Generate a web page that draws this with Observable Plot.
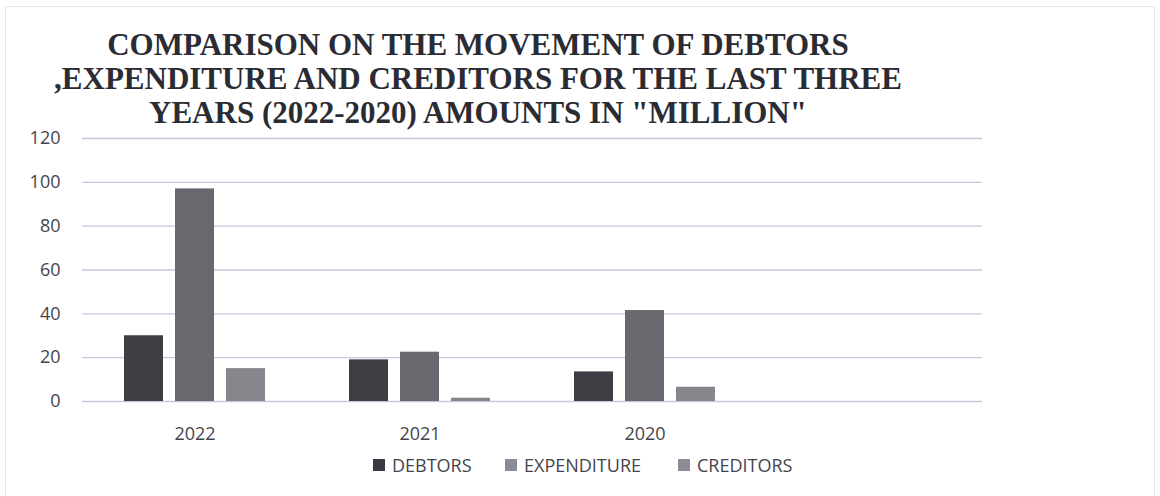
<!DOCTYPE html>
<html>
<head>
<meta charset="utf-8">
<script src="https://cdn.jsdelivr.net/npm/d3@7"></script>
<script src="https://cdn.jsdelivr.net/npm/@observablehq/plot@0.6"></script>
<style>
  html, body { margin: 0; padding: 0; background: #fff; }
  #wrap { position: relative; width: 1160px; height: 496px; overflow: hidden; background: #fff; }
  #frame { position: absolute; left: 5px; top: 6px; width: 1148px; height: 500px; border: 1px solid #e6e6ea; }
  #title { position: absolute; left: 0; top: 28px; width: 956px; text-align: center;
           font-family: "Liberation Serif", "Times New Roman", serif; font-weight: bold;
           font-size: 31px; line-height: 34px; color: #2b2b33; }
  #chart { position: absolute; left: 0; top: 120px; }
  #legend { position: absolute; top: 453px; left: 0; width: 1160px;
            font-family: "Open Sans", sans-serif; font-size: 18px; color: #44444c; }
  .item { position: absolute; display: flex; align-items: center; white-space: nowrap; }
  .sw { width: 12px; height: 12px; margin-right: 7px; }
</style>
</head>
<body>
<div id="wrap">
  <div id="frame"></div>
  <div id="title"></div>
  <div id="chart"></div>
  <div id="legend"></div>
</div>
<script>
const titleLines = [
  "COMPARISON ON THE MOVEMENT OF DEBTORS",
  ",EXPENDITURE AND CREDITORS FOR THE LAST THREE",
  "YEARS (2022-2020) AMOUNTS IN \"MILLION\""
];
const years = ["2022", "2021", "2020", ""];
const series = ["DEBTORS", "EXPENDITURE", "CREDITORS"];
const debtors = [30, 19, 13.5];
const expenditure = [97, 22.5, 41.5];
const creditors = [15, 1.5, 6.5];
const yTicks = [0, 20, 40, 60, 80, 100, 120];
const barColors = ["#3e3e45", "#68686f", "#86868d"];
const legendColors = ["#3a3a42", "#8a8a98", "#8c8c94"];
const legendX = [373, 505, 678];

const data = [];
[debtors, expenditure, creditors].forEach((vals, si) => {
  vals.forEach((v, yi) => data.push({ year: years[yi], series: series[si], value: v }));
});
const grid = years.flatMap(yr => yTicks.map(t => ({ year: yr, tick: t })));

document.getElementById("title").innerHTML = titleLines.map(t => `<div>${t}</div>`).join("");

const chart = Plot.plot({
  width: 1160,
  height: 331,
  marginTop: 18,
  marginBottom: 50,
  marginLeft: 80,
  marginRight: 177,
  style: { fontFamily: "Open Sans, sans-serif", fontSize: "18px", color: "#44444c", background: "transparent" },
  fx: { domain: years, padding: 0, label: null, tickSize: 0, tickPadding: 26 },
  x: { domain: series, paddingInner: 0.24, paddingOuter: 0.8, axis: null },
  y: { domain: [0, 120], ticks: yTicks, tickSize: 0, tickPadding: 22, label: null },
  color: { domain: series, range: barColors },
  marks: [
    Plot.ruleY(grid, { fx: "year", y: "tick", stroke: "#c6c6dc", strokeWidth: 1.3 }),
    Plot.barY(data, { fx: "year", x: "series", y: "value", fill: "series" })
  ]
});
document.getElementById("chart").appendChild(chart);

const legend = document.getElementById("legend");
series.forEach((s, i) => {
  const it = document.createElement("div");
  it.className = "item";
  it.style.left = legendX[i] + "px";
  it.innerHTML = `<span class="sw" style="background:${legendColors[i]}"></span><span>${s}</span>`;
  legend.appendChild(it);
});
</script>
</body>
</html>
